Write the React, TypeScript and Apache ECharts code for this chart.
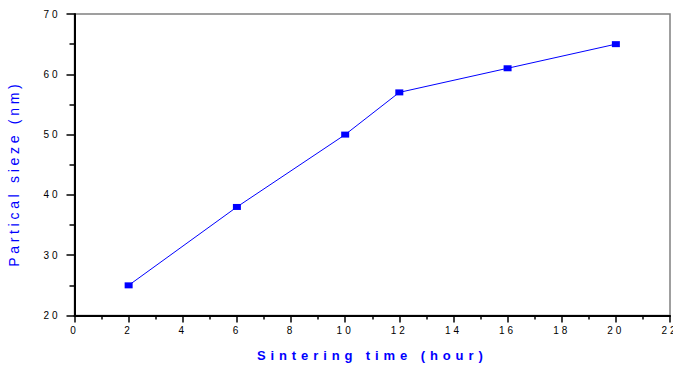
import React, { useEffect, useRef } from "react";
import * as echarts from "echarts";

// Sintering time (hour) vs. particle size (nm)
const sinteringHours = [2, 6, 10, 12, 16, 20];
const particleSizeNm = [25, 38, 50, 57, 61, 65];

const xTitle = "Sintering time (hour)";
const yTitle = "Partical sieze (nm)";

const BLUE = "#0000ff";
const Y_TITLE_BLUE = "#0000fe";

export default function App() {
  const ref = useRef<HTMLDivElement>(null);

  useEffect(() => {
    if (!ref.current) return;
    const chart = echarts.init(ref.current, undefined, { renderer: "svg" });

    chart.setOption({
      animation: false,
      backgroundColor: "#ffffff",
      grid: {
        left: 74.5,
        right: 3,
        top: 14,
        bottom: 51.5,
        containLabel: false,
        outerBoundsMode: "none",
        show: true,
        borderColor: "#808080",
        borderWidth: 1.5,
        backgroundColor: "transparent",
      },
      xAxis: {
        type: "value",
        min: 0,
        max: 22,
        interval: 2,
        name: xTitle,
        nameLocation: "middle",
        nameGap: 40,
        nameTextStyle: {
          color: BLUE,
          fontFamily: "Liberation Sans, Arial, sans-serif",
          fontWeight: "bold",
          fontSize: 13,
          verticalAlign: "middle",
        },
        axisLine: { show: true, onZero: false, lineStyle: { color: "#000", width: 2 } },
        axisTick: { show: true, inside: false, length: 7, lineStyle: { color: "#000", width: 1.5 } },
        minorTick: { show: true, splitNumber: 2, length: 4, lineStyle: { color: "#000", width: 1.5 } },
        splitLine: { show: false },
        axisLabel: {
          color: "#000",
          fontFamily: "Liberation Sans, Arial, sans-serif",
          fontSize: 10,
          margin: 10,
          showMinLabel: true,
          showMaxLabel: true,
        },
      },
      yAxis: {
        type: "value",
        min: 20,
        max: 70,
        interval: 10,
        name: yTitle,
        nameLocation: "middle",
        nameRotate: 90,
        nameGap: 54,
        nameTextStyle: {
          color: Y_TITLE_BLUE,
          fontFamily: "Liberation Sans, Arial, sans-serif",
          fontSize: 14,
          padding: [0, 18, 0, 0],
        },
        axisLine: { show: true, onZero: false, lineStyle: { color: "#000", width: 2 } },
        axisTick: { show: true, inside: false, length: 8, lineStyle: { color: "#000", width: 1.5 } },
        minorTick: { show: true, splitNumber: 2, length: 5, lineStyle: { color: "#000", width: 1.5 } },
        splitLine: { show: false },
        axisLabel: {
          color: "#000",
          fontFamily: "Liberation Sans, Arial, sans-serif",
          fontSize: 10,
          margin: 14,
        },
      },
      series: [
        {
          type: "line",
          data: sinteringHours.map((h, i) => [h, particleSizeNm[i]]),
          symbol: "rect",
          symbolSize: [8, 6],
          showSymbol: true,
          itemStyle: { color: BLUE },
          lineStyle: { color: BLUE, width: 1 },
          z: 5,
        },
      ],
    });

    return () => chart.dispose();
  }, []);

  return (
    <>
      <style>{`
        #sinter-chart text { letter-spacing: 3px; }
        #sinter-chart text[fill="${BLUE}"] { letter-spacing: 4.9px; }
        #sinter-chart text[fill="${Y_TITLE_BLUE}"] { letter-spacing: 3.7px; }
      `}</style>
      <div
        id="sinter-chart"
        ref={ref}
        style={{ position: "absolute", left: 0, top: 0, width: 673, height: 367 }}
      />
    </>
  );
}
